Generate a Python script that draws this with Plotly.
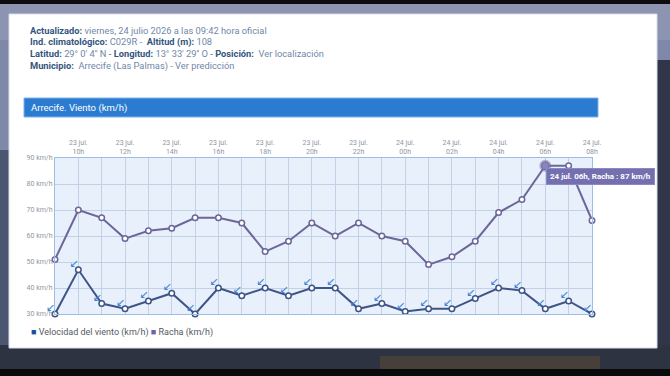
import plotly.graph_objects as go

# ---------------- data ----------------
days = ["23 jul."] * 15 + ["24 jul."] * 9
hours = ["09h", "10h", "11h", "12h", "13h", "14h", "15h", "16h", "17h", "18h", "19h", "20h",
         "21h", "22h", "23h", "00h", "01h", "02h", "03h", "04h", "05h", "06h", "07h", "08h"]
categories = [f"{d} {h}" for d, h in zip(days, hours)]
velocidad = [30, 47, 34, 32, 35, 38, 30, 40, 37, 40, 37, 40,
             40, 32, 34, 31, 32, 32, 36, 40, 39, 32, 35, 30]
racha = [51, 70, 67, 59, 62, 63, 67, 67, 65, 54, 58, 65,
         60, 65, 60, 58, 49, 52, 58, 69, 74, 87, 87, 66]
tick_text = [f"{d}<br>{h}" if int(h[:2]) % 2 == 0 else "" for d, h in zip(days, hours)]
y_ticks = [30, 40, 50, 60, 70, 80, 90]

W, H = 670, 376
L, R, T, B = 55, 592, 158, 314  # plot area in pixels


def px(x):
    return (x - L) / (R - L)


def py(y):
    return (B - y) / (B - T)


C_WIND = "#3f5486"
C_GUST = "#6c6699"
C_ARROW = "#3d84d8"
FONT = "Roboto"

fig = go.Figure()

fig.add_trace(go.Scatter(
    x=categories, y=racha, mode="lines+markers", name="Racha (km/h)",
    line=dict(color=C_GUST, width=2),
    marker=dict(symbol="circle", size=5.5, color="white", line=dict(color=C_GUST, width=1.5)),
    cliponaxis=False, showlegend=False))

fig.add_trace(go.Scatter(
    x=categories, y=velocidad, mode="lines+markers", name="Velocidad del viento (km/h)",
    line=dict(color=C_WIND, width=2),
    marker=dict(symbol="circle", size=5.5, color="white", line=dict(color=C_WIND, width=1.5)),
    cliponaxis=False, showlegend=False))

# wind direction arrows
fig.add_trace(go.Scatter(
    x=categories, y=velocidad, mode="text", text=["↙"] * len(velocidad),
    textposition="top left", textfont=dict(color=C_ARROW, size=11, family="DejaVu Sans"),
    cliponaxis=False, showlegend=False, hoverinfo="skip"))

# highlighted (hovered) point
imax = racha.index(max(racha))
fig.add_trace(go.Scatter(
    x=[categories[imax]], y=[racha[imax]], mode="markers",
    marker=dict(symbol="circle", size=9, color="#8a84bd",
                line=dict(color="rgba(108,102,153,0.45)", width=3)),
    cliponaxis=False, showlegend=False, hoverinfo="skip"))

shapes = [
    # background tints (blurred photo behind the card)
    dict(type="rect", xref="paper", yref="paper", x0=px(0), x1=px(W), y0=py(0), y1=py(150),
         fillcolor="#7f88a8", line_width=0, layer="below"),
    dict(type="rect", xref="paper", yref="paper", x0=px(0), x1=px(W), y0=py(0), y1=py(40),
         fillcolor="#8c94b2", line_width=0, layer="below"),
    dict(type="rect", xref="paper", yref="paper", x0=px(0), x1=px(W), y0=py(0), y1=py(4),
         fillcolor="#0c0c0e", line_width=0, layer="below"),
    dict(type="rect", xref="paper", yref="paper", x0=px(0), x1=px(W), y0=py(345), y1=py(376),
         fillcolor="#2e3342", line_width=0, layer="below"),
    dict(type="rect", xref="paper", yref="paper", x0=px(380), x1=px(600), y0=py(356), y1=py(369),
         fillcolor="#463f3a", line_width=0, layer="below"),
    dict(type="rect", xref="paper", yref="paper", x0=px(0), x1=px(W), y0=py(369), y1=py(376),
         fillcolor="#0a0a0c", line_width=0, layer="below"),
    dict(type="rect", xref="paper", yref="paper", x0=px(650), x1=px(W), y0=py(60), y1=py(345),
         fillcolor="#30354a", line_width=0, layer="below"),
    # card
    dict(type="rect", xref="paper", yref="paper", x0=px(9), x1=px(657), y0=py(14), y1=py(348),
         fillcolor="#ffffff", line=dict(color="#d8dde6", width=1), layer="below"),
    # title bar
    dict(type="rect", xref="paper", yref="paper", x0=px(24), x1=px(598), y0=py(98), y1=py(117),
         fillcolor="#2b7bd0", line=dict(color="#7fb2e8", width=1), layer="below"),
    # plot background
    dict(type="rect", xref="paper", yref="paper", x0=0, x1=1, y0=0, y1=1,
         fillcolor="#e8f0fc", line_width=0, layer="below"),
]

LAB = "#34557e"
VAL = "#7088a6"
header = [
    (30, f"<b>Actualizado:</b> <span style='color:{VAL}'>viernes, 24 julio 2026 a las 09:42 hora oficial</span>"),
    (42, f"<b>Ind. climatológico:</b> <span style='color:{VAL}'>C029R - </span> <b>Altitud (m):</b> <span style='color:{VAL}'>108</span>"),
    (54, f"<b>Latitud:</b> <span style='color:{VAL}'>29° 0' 4'' N</span> - <b>Longitud:</b> <span style='color:{VAL}'>13° 33' 29'' O</span> - <b>Posición:</b> <span style='color:{VAL}'> Ver localización</span>"),
    (66, f"<b>Municipio:</b> <span style='color:{VAL}'> Arrecife (Las Palmas) - Ver predicción</span>"),
]
annotations = []
for yy, txt in header:
    annotations.append(dict(xref="paper", yref="paper", x=px(28), y=py(yy), xanchor="left", yanchor="middle",
                            text=txt, showarrow=False, font=dict(family=FONT, size=9.3, color=LAB)))

annotations.append(dict(xref="paper", yref="paper", x=px(29), y=py(107.5), xanchor="left", yanchor="middle",
                        text="Arrecife. Viento (km/h)", showarrow=False,
                        font=dict(family=FONT, size=9.5, color="white")))

# legend
annotations.append(dict(xref="paper", yref="paper", x=px(29), y=py(332), xanchor="left", yanchor="middle",
                        text="<span style='color:#1f4f99'>■</span> Velocidad del viento (km/h) "
                             "<span style='color:#6b63ad'>■</span> Racha (km/h)",
                        showarrow=False, font=dict(family=FONT, size=9, color="#555a63")))

# tooltip
annotations.append(dict(xref="paper", yref="paper", x=px(600), y=py(176.5), xanchor="center", yanchor="middle",
                        text=f"<b>{days[imax]} {hours[imax]}, Racha : {racha[imax]} km/h</b>",
                        showarrow=False, bgcolor="#7470b0", borderpad=3, bordercolor="#8c88c4",
                        font=dict(family=FONT, size=8, color="white")))

fig.update_layout(
    width=W, height=H,
    margin=dict(l=L, r=W - R, t=T, b=H - B, pad=0),
    paper_bgcolor="#4d5670", plot_bgcolor="rgba(0,0,0,0)",
    shapes=shapes, annotations=annotations,
    font=dict(family=FONT),
    xaxis=dict(type="category", categoryorder="array", categoryarray=categories,
               range=[0, len(categories) - 1], side="top",
               tickmode="array", tickvals=categories, ticktext=tick_text,
               tickfont=dict(size=7, color="#9096a0"), ticks="",
               showgrid=True, gridcolor="#c3d1e6", gridwidth=1,
               showline=True, linecolor="#9cbde6", linewidth=1, mirror=True, zeroline=False),
    yaxis=dict(range=[30, 90], tickmode="array", tickvals=y_ticks,
               ticktext=[f"{v} km/h" for v in y_ticks],
               tickfont=dict(size=7, color="#9096a0"), ticks="",
               showgrid=True, gridcolor="#c3d1e6", gridwidth=1,
               showline=True, linecolor="#9cbde6", linewidth=1, mirror=True, zeroline=False),
    showlegend=False,
)

fig.write_html("out.html")
